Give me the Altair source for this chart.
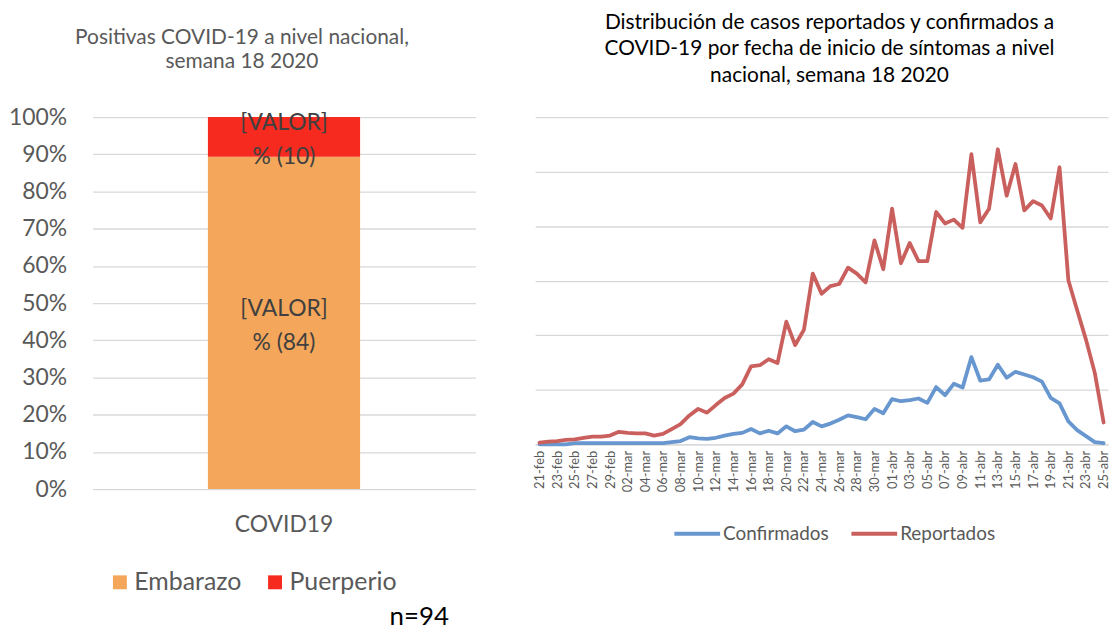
import altair as alt
import pandas as pd

# ---------------- Left chart data ----------------
categorias = ["COVID19"]
tipos = ["Embarazo", "Puerperio"]
casos = [84, 10]
total = 94
colores_tipo = ["#F4A75B", "#F62A1E"]
ticks_pct = [0, 0.1, 0.2, 0.3, 0.4, 0.5, 0.6, 0.7, 0.8, 0.9, 1.0]

# ---------------- Right chart data ----------------
fechas = ([f"{d:02d}-feb" for d in range(21, 30)]
          + [f"{d:02d}-mar" for d in range(1, 32)]
          + [f"{d:02d}-abr" for d in range(1, 26)])
etiquetas_x = fechas[::2]

confirmados = [0, 0, 0, 0, 0.2, 0.2, 0.2, 0.2, 0.2, 0.2,
               0.2, 0.2, 0.2, 0.2, 0.2, 0.4, 0.6, 1.3, 1.1, 1.0,
               1.2, 1.6, 1.9, 2.1, 2.8, 2.0, 2.5, 2.0, 3.3, 2.4,
               2.7, 4.1, 3.3, 3.8, 4.5, 5.3, 5.0, 4.6, 6.5, 5.7,
               8.3, 7.9, 8.1, 8.4, 7.6, 10.5, 9.0, 11.1, 10.4, 16.0,
               11.7, 11.9, 14.6, 12.2, 13.3, 12.8, 12.3, 11.5, 8.5, 7.5,
               4.2, 2.6, 1.5, 0.4, 0.2]
reportados = [0.3, 0.5, 0.6, 0.8, 0.9, 1.2, 1.4, 1.4, 1.6, 2.3,
              2.1, 2.0, 2.0, 1.6, 1.9, 2.8, 3.7, 5.3, 6.5, 5.8,
              7.2, 8.5, 9.3, 11.0, 14.3, 14.5, 15.6, 14.9, 22.5, 18.2,
              21.0, 31.3, 27.6, 29.0, 29.4, 32.4, 31.3, 29.7, 37.4, 32.1,
              43.2, 33.2, 36.9, 33.6, 33.6, 42.6, 40.5, 41.2, 39.7, 53.2,
              40.7, 43.2, 54.1, 45.6, 51.4, 42.9, 44.6, 43.8, 41.4, 50.8,
              30.1, 24.6, 19.2, 13.1, 4.0]
series = ["Confirmados", "Reportados"]
colores_serie = ["#6897CF", "#CA605E"]
grid_vals = [0, 10, 20, 30, 40, 50, 60]

FONT = "Lato"
GRIS = "#595959"
GRID = "#D9D9D9"

# ---------------- Left chart ----------------
df_bar = pd.DataFrame({
    "categoria": categorias * len(tipos),
    "tipo": tipos,
    "n": casos,
})
df_bar["valor"] = df_bar["n"] / total
df_bar["etiqueta"] = "[VALOR]\n% (" + df_bar["n"].astype(str) + ")"

base_bar = (
    alt.Chart(df_bar)
    .transform_stack(stack="valor", groupby=["categoria"], as_=["y0", "y1"],
                     sort=[alt.SortField("tipo", order="ascending")])
    .transform_calculate(mid="(datum.y0 + datum.y1) / 2")
)

x_bar = alt.X(
    "categoria:N", title="n=94",
    scale=alt.Scale(paddingInner=0, paddingOuter=0),
    axis=alt.Axis(labelAngle=0, labelFontSize=23, labelColor=GRIS, labelFont=FONT,
                  labelPadding=25, ticks=False, domain=False,
                  titleX=328, titleY=128, titleFontSize=26, titleColor="black",
                  titleFont=FONT, titleFontWeight="normal", titleBaseline="middle",
                  titleAlign="center"),
)

y_axis = alt.Axis(format=".0%", values=ticks_pct, labelFontSize=23,
                  labelColor=GRIS, labelFont=FONT, labelPadding=26,
                  labelOverlap=False, labelBound=False,
                  ticks=False, domain=False, gridColor=GRID, gridWidth=1.3)
y_scale = alt.Scale(domain=[0, 1])

bars = base_bar.mark_bar(size=153).encode(
    x=x_bar,
    y=alt.Y("y0:Q", title=None, scale=y_scale, axis=y_axis),
    y2="y1:Q",
    color=alt.Color("tipo:N", scale=alt.Scale(domain=tipos, range=colores_tipo),
                    legend=alt.Legend(orient="none", legendX=15, legendY=455,
                                      direction="horizontal", title=None,
                                      symbolType="square", symbolSize=196,
                                      symbolStrokeWidth=0,
                                      labelFontSize=25, labelFont=FONT,
                                      labelColor=GRIS, labelOffset=2,
                                      columnPadding=21, padding=0)),
)

texts = base_bar.mark_text(font=FONT, fontSize=23, color="#404040", lineBreak="\n",
                           lineHeight=34, baseline="middle", align="center", dy=-14).encode(
    x=x_bar,
    y=alt.Y("mid:Q", title=None, scale=y_scale, axis=y_axis),
    text="etiqueta:N",
)

left = alt.layer(bars, texts).properties(
    width=385, height=374,
    title=alt.TitleParams(["Positivas COVID-19 a nivel nacional,", "semana 18 2020"],
                          fontSize=21, font=FONT, color=GRIS, fontWeight="normal",
                          lineHeight=25, offset=34, anchor="middle", frame="bounds"),
)

# ---------------- Right chart ----------------
df_line = pd.DataFrame({
    "fecha": fechas * 2,
    "serie": [series[0]] * len(fechas) + [series[1]] * len(fechas),
    "valor": confirmados + reportados,
})

right = alt.Chart(df_line).mark_line(strokeWidth=3.8, strokeJoin="round", strokeCap="round").encode(
    x=alt.X("fecha:O", sort=fechas, title=None,
            axis=alt.Axis(values=etiquetas_x, labelAngle=270, labelFontSize=13,
                          labelColor=GRIS, labelFont=FONT, labelPadding=6,
                          ticks=False, domainColor=GRID, domainWidth=1.3)),
    y=alt.Y("valor:Q", title=None, scale=alt.Scale(domain=[0, 60]),
            axis=alt.Axis(values=grid_vals, labels=False, ticks=False, domain=False,
                          gridColor=GRID, gridWidth=1.3)),
    color=alt.Color("serie:N", scale=alt.Scale(domain=series, range=colores_serie),
                    legend=alt.Legend(orient="none", legendX=138, legendY=394,
                                      direction="horizontal", title=None,
                                      symbolType="stroke", symbolSize=2116,
                                      symbolStrokeWidth=4, labelFontSize=19,
                                      labelFont=FONT, labelColor=GRIS, labelOffset=1,
                                      columnPadding=14, padding=0)),
).properties(
    width=576, height=329,
    title=alt.TitleParams(["Distribución de casos reportados y confirmados a",
                           "COVID-19 por fecha de inicio de síntomas  a nivel",
                           "nacional, semana 18 2020"],
                          fontSize=21, font=FONT, color="black", fontWeight="normal",
                          lineHeight=27, offset=31, anchor="middle", dx=8),
)

chart = (
    alt.hconcat(left, right, spacing=58, background="white",
                padding={"top": 2, "left": 0, "right": 0, "bottom": 0})
    .resolve_scale(color="independent")
    .resolve_legend(color="independent")
    .configure_view(strokeWidth=0, stroke=None)
)

chart.save("out.html", embed_options={"renderer": "svg", "actions": False})
